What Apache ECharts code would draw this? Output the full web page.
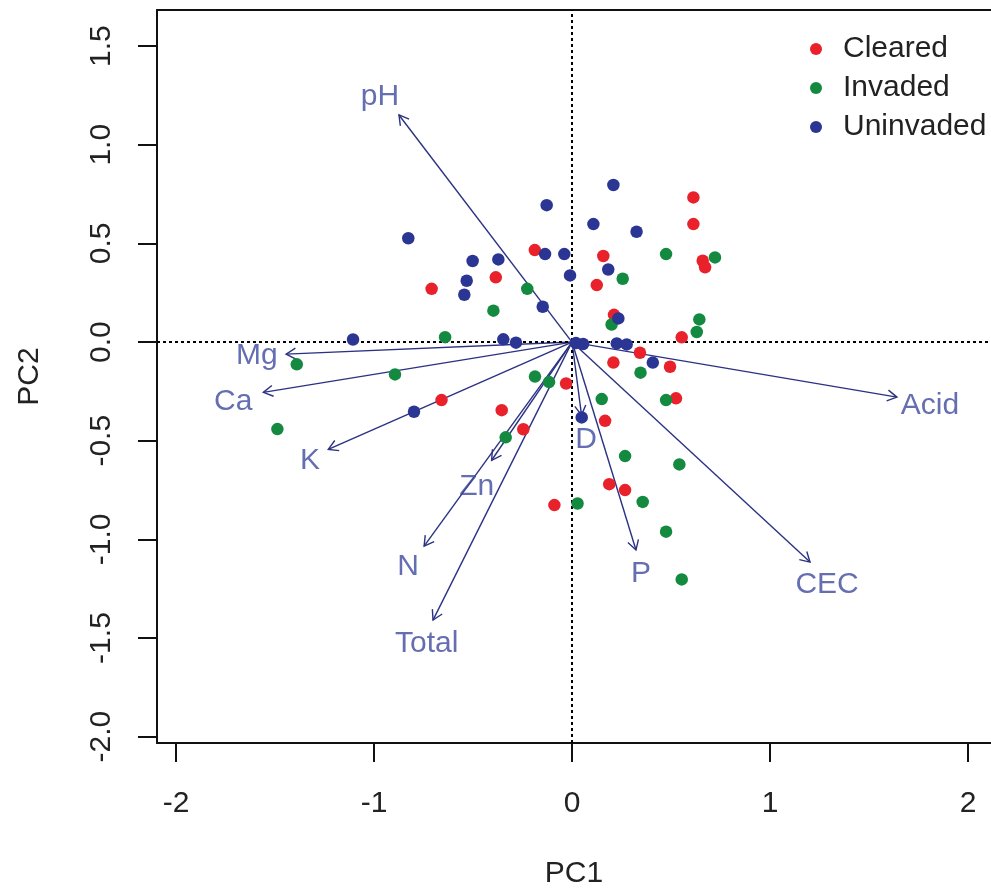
<!DOCTYPE html>
<html>
<head>
<meta charset="utf-8">
<script src="https://cdn.jsdelivr.net/npm/echarts@6/dist/echarts.min.js"></script>
<style>
html,body{margin:0;padding:0;background:#fff;}
#chart{width:991px;height:888px;}
</style>
</head>
<body>
<div id="chart"></div>
<script>
// ---- data ----
var groupNames = ['Cleared', 'Invaded', 'Uninvaded'];
var cleared = [
  [0.613, 0.733], [0.613, 0.598], [0.660, 0.412], [0.672, 0.379], [0.158, 0.436],
  [0.125, 0.289], [-0.188, 0.466], [-0.385, 0.328], [-0.709, 0.270], [0.212, 0.138],
  [0.554, 0.024], [0.343, -0.054], [0.209, -0.104], [0.495, -0.125], [-0.030, -0.210],
  [0.525, -0.285], [-0.659, -0.294], [-0.355, -0.345], [0.167, -0.399], [-0.246, -0.442],
  [0.188, -0.720], [0.268, -0.750], [-0.089, -0.826]
];
var invaded = [
  [0.722, 0.429], [0.475, 0.446], [0.256, 0.321], [-0.226, 0.270], [-0.397, 0.159],
  [0.200, 0.089], [0.643, 0.115], [0.630, 0.051], [-0.641, 0.025], [-1.390, -0.113],
  [-0.894, -0.164], [-0.187, -0.175], [-0.116, -0.203], [0.346, -0.155], [0.150, -0.289],
  [0.475, -0.294], [-1.488, -0.441], [-0.335, -0.483], [0.268, -0.578], [0.542, -0.620],
  [0.357, -0.810], [0.028, -0.818], [0.475, -0.961], [0.554, -1.203]
];
var uninvaded = [
  [0.209, 0.796], [-0.128, 0.694], [0.108, 0.598], [0.326, 0.559], [-0.827, 0.526],
  [-0.136, 0.446], [-0.039, 0.446], [-0.502, 0.411], [-0.372, 0.419], [0.183, 0.368],
  [-0.010, 0.338], [-0.532, 0.311], [-0.544, 0.240], [-0.148, 0.179], [0.234, 0.120],
  [-1.106, 0.013], [-0.347, 0.014], [-0.283, -0.003], [0.020, -0.005], [0.056, -0.010],
  [0.226, -0.007], [0.276, -0.012], [0.408, -0.104], [-0.798, -0.353], [0.049, -0.382]
];
var varNames = ['pH', 'Mg', 'Ca', 'K', 'Zn', 'N', 'Total', 'D', 'P', 'CEC', 'Acid'];
var loadX = [-0.874, -1.444, -1.559, -1.231, -0.406, -0.747, -0.702, 0.048, 0.323, 1.202, 1.641];
var loadY = [1.151, -0.061, -0.255, -0.544, -0.599, -1.034, -1.409, -0.370, -1.054, -1.115, -0.279];
var labelX = [-0.970, -1.592, -1.711, -1.323, -0.481, -0.828, -0.734, 0.071, 0.348, 1.288, 1.808];
var labelY = [1.242, -0.071, -0.303, -0.602, -0.733, -1.140, -1.527, -0.497, -1.172, -1.232, -0.324];
var xTicks = [-2, -1, 0, 1, 2];
var yTicks = [-2.0, -1.5, -1.0, -0.5, 0.0, 0.5, 1.0, 1.5];
var xRange = [-2.096, 2.116];
var yRange = [-2.032, 1.683];

// ---- chart ----
var FONT = 'Liberation Sans, Arial, sans-serif';
var arrowColor = '#2b3282';
var labelColor = '#3d4a9e';
var chart = echarts.init(document.getElementById('chart'), null, {renderer: 'canvas'});

var arrowData = varNames.map(function (n, i) { return [loadX[i], loadY[i]]; });
var labelData = varNames.map(function (n, i) { return {name: n, value: [labelX[i], labelY[i]]}; });

function renderArrow(params, api) {
  var p0 = api.coord([0, 0]);
  var p1 = api.coord([api.value(0), api.value(1)]);
  var ang = Math.atan2(p1[1] - p0[1], p1[0] - p0[0]);
  var L = 11, a = Math.PI / 6;
  var h1 = [p1[0] - L * Math.cos(ang - a), p1[1] - L * Math.sin(ang - a)];
  var h2 = [p1[0] - L * Math.cos(ang + a), p1[1] - L * Math.sin(ang + a)];
  var st = {stroke: arrowColor, lineWidth: 1.4, fill: null};
  return {
    type: 'group',
    children: [
      {type: 'line', shape: {x1: p0[0], y1: p0[1], x2: p1[0], y2: p1[1]}, style: st},
      {type: 'polyline', shape: {points: [h1, p1, h2]}, style: st}
    ]
  };
}

function groupSeries(name, data, color) {
  return {
    name: name, type: 'scatter', data: data, symbol: 'circle', symbolSize: 12.5,
    itemStyle: {color: color, opacity: 1}, z: 5, silent: true
  };
}

var axisLineStyle = {color: '#111', width: 2};

chart.setOption({
  animation: false,
  backgroundColor: '#ffffff',
  textStyle: {fontFamily: FONT},
  grid: {left: 157, top: 10, right: 0, bottom: 145, show: false, containLabel: false, outerBoundsMode: 'none'},
  legend: {
    data: groupNames.map(function (n) { return {name: n, icon: 'circle'}; }),
    orient: 'vertical', left: 810, top: 34, padding: 0,
    itemWidth: 12, itemHeight: 12, itemGap: 9,
    textStyle: {fontSize: 30, color: '#222', fontFamily: FONT, lineHeight: 30, padding: [0, 0, 0, 16]},
    selectedMode: false
  },
  xAxis: [{
    type: 'value', min: xRange[0], max: xRange[1], position: 'bottom',
    name: 'PC1', nameLocation: 'middle', nameGap: 116,
    nameTextStyle: {fontSize: 30, color: '#222', fontFamily: FONT},
    axisLine: {show: true, onZero: false, lineStyle: axisLineStyle},
    axisTick: {show: true, inside: false, length: 19, customValues: xTicks, lineStyle: axisLineStyle},
    axisLabel: {show: true, customValues: xTicks, margin: 46, fontSize: 30, color: '#222', fontFamily: FONT,
      formatter: function (v) { return String(Math.round(v)); }},
    splitLine: {show: false}
  }, {
    type: 'value', min: xRange[0], max: xRange[1], position: 'top',
    axisLine: {show: true, onZero: false, lineStyle: axisLineStyle},
    axisTick: {show: false}, axisLabel: {show: false}, splitLine: {show: false}
  }],
  yAxis: {
    type: 'value', min: yRange[0], max: yRange[1],
    name: 'PC2', nameLocation: 'middle', nameGap: 112, nameRotate: 90,
    nameTextStyle: {fontSize: 30, color: '#222', fontFamily: FONT},
    axisLine: {show: true, onZero: false, lineStyle: axisLineStyle},
    axisTick: {show: true, inside: false, length: 19, customValues: yTicks, lineStyle: axisLineStyle},
    axisLabel: {show: true, customValues: yTicks, margin: 40, rotate: 90, fontSize: 30, color: '#222', fontFamily: FONT,
      formatter: function (v) { return v.toFixed(1); }},
    splitLine: {show: false}
  },
  series: [
    {
      name: 'refLines', type: 'line', data: [], silent: true, z: 1,
      markLine: {
        silent: true, symbol: ['none', 'none'], animation: false,
        label: {show: false},
        lineStyle: {color: '#000', width: 2, type: [3, 3]},
        data: [{xAxis: 0}, {yAxis: 0}]
      }
    },
    {
      name: 'arrows', type: 'custom', data: arrowData, renderItem: renderArrow, z: 3, silent: true
    },
    {
      name: 'varLabels', type: 'scatter', data: labelData, symbolSize: 1, z: 4, silent: true,
      itemStyle: {color: 'rgba(0,0,0,0)'},
      label: {show: true, position: 'inside', formatter: '{b}', fontSize: 30, color: labelColor, fontFamily: FONT}
    },
    groupSeries('Cleared', cleared, '#e8212b'),
    groupSeries('Invaded', invaded, '#138a40'),
    groupSeries('Uninvaded', uninvaded, '#2b3593')
  ]
});
</script>
</body>
</html>
